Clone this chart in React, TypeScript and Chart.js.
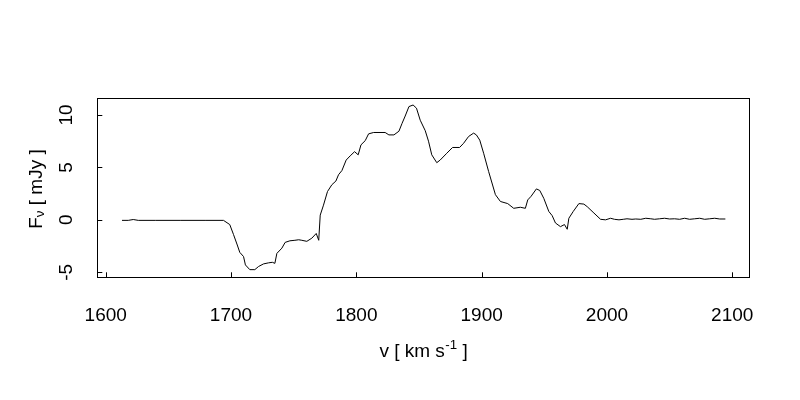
import React, { useEffect, useRef } from "react";
import { Chart, registerables } from "chart.js";

Chart.register(...registerables);

// Velocity channels (km/s) and flux density (mJy)
const velocity = [
  1613, 1618, 1622, 1626, 1640, 1660, 1680, 1694, 1699, 1702,
  1705, 1707, 1710, 1711.5, 1715, 1719, 1722, 1726, 1730, 1733,
  1735, 1736.6, 1740.6, 1743.2, 1747, 1751, 1754, 1756.5, 1760.5, 1764.5,
  1768, 1770, 1771.2, 1773.8, 1777, 1780.5, 1783.7, 1785.8, 1788.5, 1791.9,
  1795.1, 1798.6, 1801.5, 1803.7, 1807.1, 1809.8, 1813.8, 1823, 1826, 1830,
  1834, 1836.5, 1839, 1842, 1845.3, 1848, 1851, 1855, 1857.6, 1860.2,
  1864.2, 1866.9, 1872.2, 1876.8, 1882.4, 1885.6, 1889.6, 1893.6, 1895.8, 1898.5,
  1901.6, 1905.6, 1911, 1915, 1920.8, 1925.6, 1930.9, 1934.9, 1936.8, 1939.5,
  1943.7, 1946.4, 1949.6, 1953.6, 1956.3, 1958.9, 1962.9, 1966.1, 1968.3, 1969.6,
  1973.1, 1977.6, 1981.6, 1984.3, 1989.6, 1994.9, 1998.9, 2002.9, 2006, 2009.6,
  2013, 2016, 2020, 2023, 2027, 2031, 2035, 2038, 2042, 2046,
  2050, 2054, 2058, 2062, 2066, 2070, 2074, 2078, 2082, 2086,
  2090, 2094.5,
];

const flux = [
  -0.05, -0.05, 0.03, -0.05, -0.05, -0.05, -0.05, -0.05, -0.45, -1.4,
  -2.4, -3.1, -3.5, -4.3, -4.75, -4.75, -4.45, -4.2, -4.1, -4.05,
  -4.15, -3.2, -2.7, -2.15, -2.0, -1.95, -1.9, -1.95, -2.05, -1.75,
  -1.3, -1.95, 0.45, 1.4, 2.7, 3.35, 3.7, 4.3, 4.7, 5.7,
  6.1, 6.5, 6.2, 7.15, 7.55, 8.2, 8.33, 8.33, 8.1, 8.1,
  8.45, 9.2, 9.9, 10.8, 10.95, 10.65, 9.5, 8.5, 7.5, 6.2,
  5.45, 5.7, 6.35, 6.9, 6.9, 7.3, 7.95, 8.27, 8.1, 7.6,
  6.35, 4.6, 2.4, 1.75, 1.55, 1.1, 1.2, 1.1, 1.9, 2.25,
  2.95, 2.8, 2.05, 0.8, 0.4, -0.3, -0.65, -0.45, -0.9, 0.15,
  0.8, 1.55, 1.5, 1.25, 0.65, 0.05, 0.0, 0.15, 0.05, 0.0,
  0.05, 0.1, 0.05, 0.08, 0.05, 0.15, 0.1, 0.05, 0.1, 0.15,
  0.08, 0.1, 0.05, 0.15, 0.05, 0.1, 0.15, 0.05, 0.1, 0.15,
  0.08, 0.08,
];

const xTicks = [1600, 1700, 1800, 1900, 2000, 2100];
const yTicks = [-5, 0, 5, 10];

const xRange = [1593.3, 2113.6];
const yRange = [-5.48, 11.59];

const FONT = "'Liberation Sans', Arial, Helvetica, sans-serif";

const framePlugin = {
  id: "rframe",
  afterDraw(chart: any) {
    const { ctx, chartArea } = chart;
    const { left, right, top, bottom } = chartArea;
    const xs = chart.scales.x;
    const ys = chart.scales.y;
    ctx.save();
    ctx.strokeStyle = "#000";
    ctx.lineWidth = 1;
    // box
    ctx.strokeRect(Math.round(left) + 0.5, Math.round(top) + 0.5, Math.round(right - left), Math.round(bottom - top));
    // inward ticks
    ctx.beginPath();
    xTicks.forEach((v) => {
      const px = Math.round(xs.getPixelForValue(v)) + 0.5;
      ctx.moveTo(px, bottom);
      ctx.lineTo(px, bottom - 5);
    });
    yTicks.forEach((v) => {
      const py = Math.round(ys.getPixelForValue(v)) + 0.5;
      ctx.moveTo(left, py);
      ctx.lineTo(left + 5, py);
    });
    ctx.stroke();

    // x title: v [ km s^-1 ]
    ctx.fillStyle = "#000";
    ctx.textBaseline = "alphabetic";
    ctx.textAlign = "left";
    const big = `19px ${FONT}`;
    const small = `13.3px ${FONT}`;
    const t1 = "v [ km s";
    const t2 = "-1";
    const t3 = " ]";
    ctx.font = big;
    const w1 = ctx.measureText(t1).width;
    const w3 = ctx.measureText(t3).width;
    ctx.font = small;
    const w2 = ctx.measureText(t2).width;
    const cx = (left + right) / 2;
    let x0 = cx - (w1 + w2 + w3) / 2;
    const by = 356.5;
    ctx.font = big;
    ctx.fillText(t1, x0, by);
    ctx.font = small;
    ctx.fillText(t2, x0 + w1 + 0.5, by - 8);
    ctx.font = big;
    ctx.fillText(t3, x0 + w1 + w2 + 0.5, by);

    // y title: F_nu [ mJy ]
    const s1 = "F";
    const s2 = "\u03BD";
    const s3 = " [ mJy ]";
    ctx.font = big;
    const u1 = ctx.measureText(s1).width;
    const u3 = ctx.measureText(s3).width;
    ctx.font = small;
    const u2 = ctx.measureText(s2).width;
    const cy = 189;
    ctx.translate(42, cy);
    ctx.rotate(-Math.PI / 2);
    let sx = -(u1 + u2 + u3) / 2;
    ctx.font = big;
    ctx.fillText(s1, sx, 0);
    ctx.font = small;
    ctx.fillText(s2, sx + u1, 1.5);
    ctx.font = big;
    ctx.fillText(s3, sx + u1 + u2, 0);
    ctx.restore();
  },
};

export default function App() {
  const ref = useRef<HTMLCanvasElement | null>(null);

  useEffect(() => {
    document.body.style.margin = "0";
    const canvas = ref.current;
    if (!canvas) return;
    const points = velocity.map((v, i) => ({ x: v, y: flux[i] }));
    const chart = new Chart(canvas, {
      type: "line",
      data: {
        datasets: [
          {
            data: points,
            borderColor: "#000",
            borderWidth: 1,
            pointRadius: 0,
            tension: 0,
            fill: false,
          },
        ],
      },
      options: {
        animation: false,
        responsive: false,
        devicePixelRatio: 1,
        events: [],
        layout: { padding: { left: 0, right: 50.7, top: 98.3, bottom: 0 } },
        plugins: {
          legend: { display: false },
          tooltip: { enabled: false },
          title: { display: false },
        },
        scales: {
          x: {
            type: "linear",
            min: xRange[0],
            max: xRange[1],
            grid: { display: false, drawTicks: false },
            border: { display: false },
            afterBuildTicks: (scale: any) => {
              scale.ticks = xTicks.map((v) => ({ value: v }));
            },
            afterFit: (scale: any) => {
              scale.height = 400 - 277.3;
            },
            ticks: {
              autoSkip: false,
              maxRotation: 0,
              minRotation: 0,
              padding: 26.6,
              color: "#000",
              font: { family: FONT, size: 19 },
              callback: (v: any) => String(v),
            },
          },
          y: {
            type: "linear",
            min: yRange[0],
            max: yRange[1],
            grid: { display: false, drawTicks: false },
            border: { display: false },
            afterBuildTicks: (scale: any) => {
              scale.ticks = yTicks.map((v) => ({ value: v }));
            },
            afterFit: (scale: any) => {
              scale.width = 97.3;
            },
            ticks: {
              autoSkip: false,
              minRotation: 90,
              maxRotation: 90,
              crossAlign: "center",
              padding: 20,
              color: "#000",
              font: { family: FONT, size: 19 },
              callback: (v: any) => String(v),
            },
          },
        },
      },
      plugins: [framePlugin],
    } as any);
    return () => chart.destroy();
  }, []);

  return (
    <div style={{ position: "absolute", left: 0, top: 0, width: 800, height: 400, background: "#fff" }}>
      <canvas ref={ref} width={800} height={400} />
    </div>
  );
}
